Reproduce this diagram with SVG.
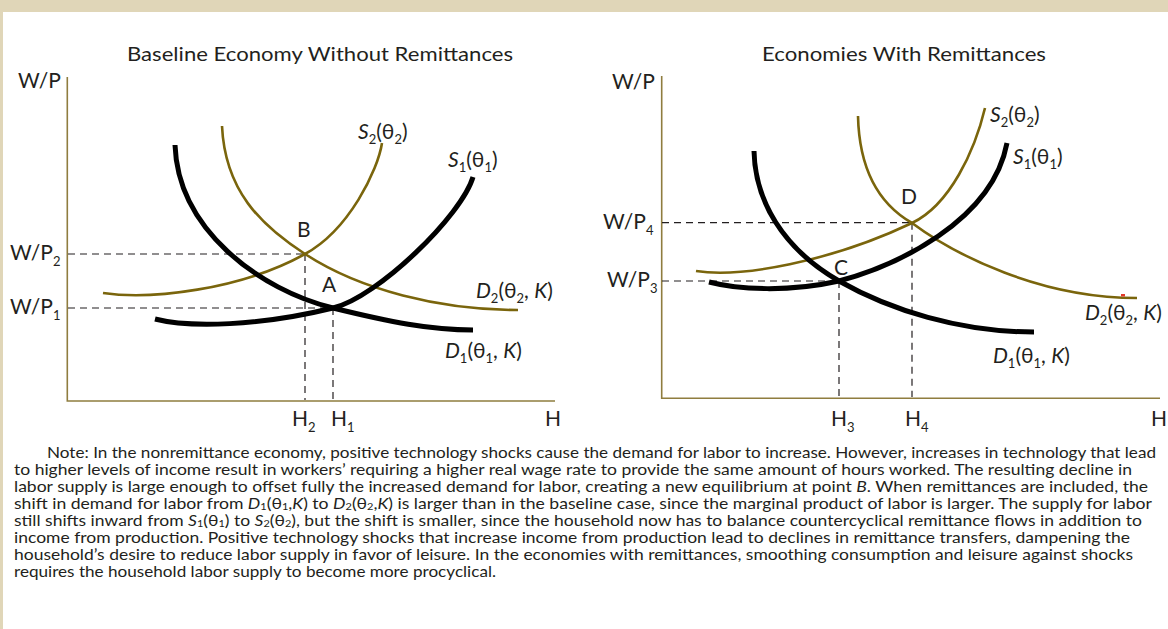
<svg xmlns="http://www.w3.org/2000/svg" width="1168" height="629" viewBox="0 0 1168 629">
<style>
text{font-family:Lato,"Liberation Sans",sans-serif;fill:#231f20}
.t{font-size:20px}
.lab{font-size:21px}
.sub{font-size:13px}
.it{font-style:italic}
.note{font-size:16px}
.nsub{font-size:10px}
.ax{stroke:#8f7d3f;stroke-width:1.6;fill:none}
.dash{stroke:#231f20;stroke-width:1.2;stroke-dasharray:7 5;fill:none}
.blk{stroke:#000;stroke-width:5;fill:none}
.olv{stroke:#7a650c;stroke-width:2.6;fill:none}
</style>
<rect width="1168" height="629" fill="#fff"/>
<rect width="1168" height="12" fill="#e0d6b8"/>
<rect width="3" height="629" fill="#e0d6b8"/>

<g id="left-chart">
  <text class="t" x="127" y="61" textLength="386" lengthAdjust="spacingAndGlyphs">Baseline Economy Without Remittances</text>
  <path class="ax" d="M67.3,77 V401 H555"/>
  <text class="lab" x="18" y="88">W/P</text>
  <text class="lab" x="10" y="260">W/P<tspan class="sub" dy="6">2</tspan></text>
  <text class="lab" x="10" y="314">W/P<tspan class="sub" dy="6">1</tspan></text>
  <text class="lab" x="292" y="426">H<tspan class="sub" dy="6">2</tspan></text>
  <text class="lab" x="331" y="426">H<tspan class="sub" dy="6">1</tspan></text>
  <text class="lab" x="545" y="426">H</text>
  <g id="left-guides">
    <path class="dash" d="M68,254 H305 M305,254 V400 M68,308 H333 M333,308 V400"/>
  </g>
  <g id="left-curves">
    <path class="olv" d="M103,293 C150,300 240,290 305,254 C349,230 378,170 382,143"/>
    <path class="olv" d="M222,126 C225,190 260,225 305,254 C360,290 440,310 518,310"/>
    <path class="blk" d="M175,145 C178,230 260,290 333,308 C390,322 430,330 473,330"/>
    <path class="blk" d="M155,319 C190,328 260,326 333,308 C378,297 462,215 473,177"/>
  </g>
  <text class="lab" x="297" y="237">B</text>
  <text class="lab" x="322" y="292">A</text>
  <text class="lab" x="358" y="139"><tspan class="it">S</tspan><tspan class="sub" dy="5">2</tspan><tspan dy="-5">(θ</tspan><tspan class="sub" dy="5">2</tspan><tspan dy="-5">)</tspan></text>
  <text class="lab" x="448" y="167"><tspan class="it">S</tspan><tspan class="sub" dy="5">1</tspan><tspan dy="-5">(θ</tspan><tspan class="sub" dy="5">1</tspan><tspan dy="-5">)</tspan></text>
  <text class="lab" x="476" y="298"><tspan class="it">D</tspan><tspan class="sub" dy="5">2</tspan><tspan dy="-5">(θ</tspan><tspan class="sub" dy="5">2</tspan><tspan dy="-5">, </tspan><tspan class="it">K</tspan>)</text>
  <text class="lab" x="445" y="358"><tspan class="it">D</tspan><tspan class="sub" dy="5">1</tspan><tspan dy="-5">(θ</tspan><tspan class="sub" dy="5">1</tspan><tspan dy="-5">, </tspan><tspan class="it">K</tspan>)</text>
</g>

<g id="right-chart">
  <text class="t" x="762" y="61" textLength="284" lengthAdjust="spacingAndGlyphs">Economies With Remittances</text>
  <path class="ax" d="M661.7,76 V398.3 H1160"/>
  <text class="lab" x="612" y="89">W/P</text>
  <text class="lab" x="603" y="229">W/P<tspan class="sub" dy="6">4</tspan></text>
  <text class="lab" x="607" y="287">W/P<tspan class="sub" dy="6">3</tspan></text>
  <text class="lab" x="831" y="426">H<tspan class="sub" dy="6">3</tspan></text>
  <text class="lab" x="905" y="426">H<tspan class="sub" dy="6">4</tspan></text>
  <text class="lab" x="1151" y="426">H</text>
  <g id="right-guides">
    <path class="dash" d="M662,222.7 H912 M912,222.7 V397 M662,281 H839 M839,281 V397"/>
  </g>
  <g id="right-curves">
    <path class="olv" d="M696,271 C740,278 830,262 912,223 C950,205 975,150 985,108"/>
    <path class="olv" d="M858,116 C859,160 872,200 912,223 C955,255 1040,298 1137,298"/>
    <path class="blk" d="M754,151 C755,200 782,248 839,281 C890,310 960,332 1034,332"/>
    <path class="blk" d="M709,282 C740,290 790,292 839,281 C895,266 992,222 1007,143"/>
    <rect x="1121" y="294" width="4" height="2.5" fill="#e23a2a"/>
  </g>
  <text class="lab" x="901" y="204">D</text>
  <text class="lab" x="834" y="275">C</text>
  <text class="lab" x="990" y="122"><tspan class="it">S</tspan><tspan class="sub" dy="5">2</tspan><tspan dy="-5">(θ</tspan><tspan class="sub" dy="5">2</tspan><tspan dy="-5">)</tspan></text>
  <text class="lab" x="1013" y="164"><tspan class="it">S</tspan><tspan class="sub" dy="5">1</tspan><tspan dy="-5">(θ</tspan><tspan class="sub" dy="5">1</tspan><tspan dy="-5">)</tspan></text>
  <text class="lab" x="1085" y="320"><tspan class="it">D</tspan><tspan class="sub" dy="5">2</tspan><tspan dy="-5">(θ</tspan><tspan class="sub" dy="5">2</tspan><tspan dy="-5">, </tspan><tspan class="it">K</tspan>)</text>
  <text class="lab" x="993" y="363"><tspan class="it">D</tspan><tspan class="sub" dy="5">1</tspan><tspan dy="-5">(θ</tspan><tspan class="sub" dy="5">1</tspan><tspan dy="-5">, </tspan><tspan class="it">K</tspan>)</text>
</g>

<g id="note">
  <text class="note" x="47" y="458" textLength="1109" lengthAdjust="spacingAndGlyphs">Note: In the nonremittance economy, positive technology shocks cause the demand for labor to increase. However, increases in technology that lead</text>
  <text class="note" x="14" y="475" textLength="1118" lengthAdjust="spacingAndGlyphs">to higher levels of income result in workers’ requiring a higher real wage rate to provide the same amount of hours worked. The resulting decline in</text>
  <text class="note" x="14" y="492" textLength="1134" lengthAdjust="spacingAndGlyphs">labor supply is large enough to offset fully the increased demand for labor, creating a new equilibrium at point <tspan class="it">B</tspan>. When remittances are included, the</text>
  <text class="note" x="14" y="509" textLength="1138" lengthAdjust="spacingAndGlyphs">shift in demand for labor from <tspan class="it">D</tspan><tspan class="nsub" dy="1">1</tspan><tspan dy="-1">(θ</tspan><tspan class="nsub" dy="1">1</tspan><tspan dy="-1">,</tspan><tspan class="it">K</tspan>) to <tspan class="it">D</tspan><tspan class="nsub" dy="1">2</tspan><tspan dy="-1">(θ</tspan><tspan class="nsub" dy="1">2</tspan><tspan dy="-1">,</tspan><tspan class="it">K</tspan>) is larger than in the baseline case, since the marginal product of labor is larger.  The supply for labor</text>
  <text class="note" x="14" y="526" textLength="1128" lengthAdjust="spacingAndGlyphs">still shifts inward from <tspan class="it">S</tspan><tspan class="nsub" dy="1">1</tspan><tspan dy="-1">(θ</tspan><tspan class="nsub" dy="1">1</tspan><tspan dy="-1">) to </tspan><tspan class="it">S</tspan><tspan class="nsub" dy="1">2</tspan><tspan dy="-1">(θ</tspan><tspan class="nsub" dy="1">2</tspan><tspan dy="-1">), but the shift is smaller, since the household now has to balance countercyclical remittance flows in addition to</tspan></text>
  <text class="note" x="14" y="543" textLength="1116" lengthAdjust="spacingAndGlyphs">income from production. Positive technology shocks that increase income from production lead to declines in remittance transfers, dampening the</text>
  <text class="note" x="14" y="560" textLength="1119" lengthAdjust="spacingAndGlyphs">household’s desire to reduce labor supply in favor of leisure. In the economies with remittances, smoothing consumption and leisure against shocks</text>
  <text class="note" x="14" y="577" textLength="482" lengthAdjust="spacingAndGlyphs">requires the household labor supply to become more procyclical.</text>
</g>
</svg>
